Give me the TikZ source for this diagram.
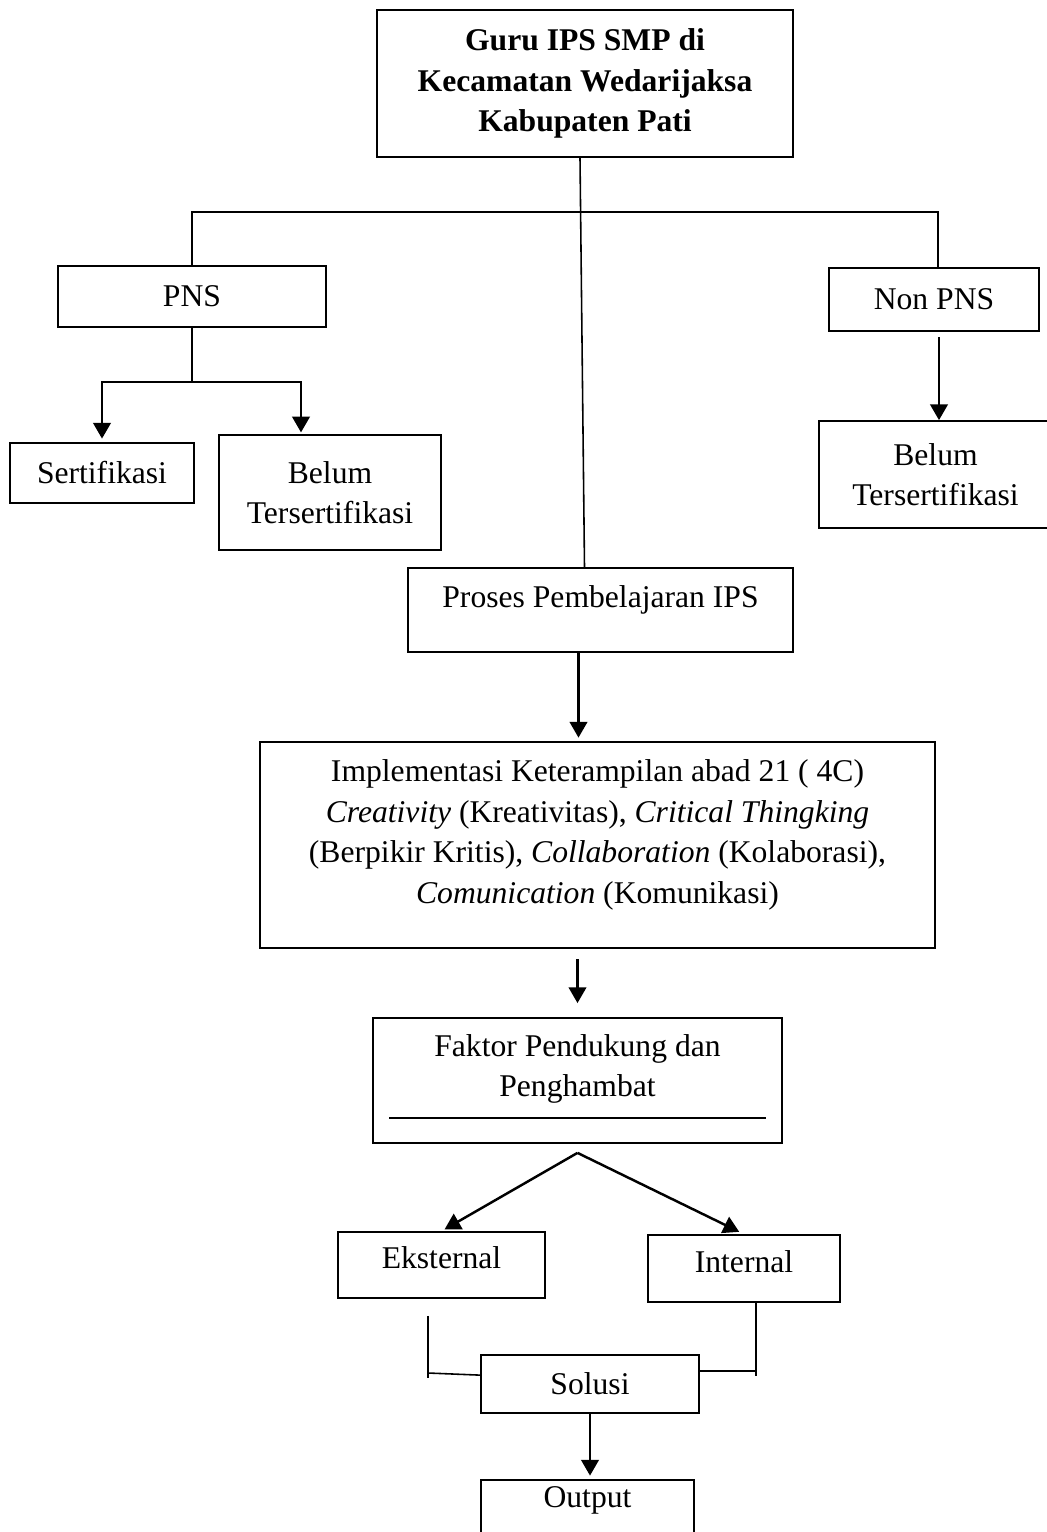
\documentclass[tikz,border=0pt]{standalone}
\usepackage{fontspec}
\setmainfont{Liberation Serif}
\usetikzlibrary{positioning,arrows.meta,calc}

\begin{document}
\begin{tikzpicture}[x=0.02cm, y=-0.02cm,
  blok/.style={draw, line width=1pt, inner sep=0pt, align=center,
    font=\fontsize{18}{23}\selectfont},
  garis/.style={line width=0.9pt},
  panah/.style={line width=1.4pt, -{Triangle[width=10pt,length=9pt]}}]
\useasboundingbox (0,0) rectangle (1047,1532);
% kotak utama
\node[blok, minimum width=8.32cm, minimum height=2.94cm,
  font=\fontsize{18}{23}\selectfont\bfseries] (guru) at (585,83.5)
  {Guru IPS SMP di\\Kecamatan Wedarijaksa\\Kabupaten Pati};
% status guru
\node[blok, minimum width=5.36cm, minimum height=1.22cm] (pns) at (192,296.5) {PNS};
\node[blok, minimum width=3.68cm, minimum height=1.2cm] (sert) at (102,473) {Sertifikasi};
\node[blok, minimum width=4.44cm, minimum height=2.3cm] (belumA) at (330,492.5) {Belum\\Tersertifikasi};
\node[blok, minimum width=4.2cm, minimum height=1.26cm] (nonpns) at (934,299.5) {Non PNS};
\node[blok, minimum width=4.66cm, minimum height=2.14cm] (belumB) at (935.5,474.5) {Belum\\Tersertifikasi};
% alur tengah
\node[blok, minimum width=7.7cm, minimum height=1.68cm] (proses) at (600.5,610)
  {Proses Pembelajaran IPS\\[-7.7pt]\mbox{}};
\node[blok, minimum width=13.5cm, minimum height=4.12cm] (impl) at (597.5,845)
  {Implementasi Keterampilan abad 21 ( 4C)\\\textit{Creativity} (Kreativitas), \textit{Critical Thingking}\\
   (Berpikir Kritis), \textit{Collaboration} (Kolaborasi),\\\textit{Comunication} (Komunikasi)\\[-7.6pt]\mbox{}};
\node[blok, minimum width=8.18cm, minimum height=2.5cm] (faktor) at (577.5,1080.5)
  {Faktor Pendukung dan\\Penghambat\\[-6.1pt]\mbox{}};
\draw[garis] ($(faktor.south west)+(17,-26)$) -- ($(faktor.south east)+(-17,-26)$);
\node[blok, minimum width=4.14cm, minimum height=1.32cm] (eks) at (441.5,1265) {Eksternal\\[-14pt]\mbox{}};
\node[blok, minimum width=3.84cm, minimum height=1.34cm] (int) at (744,1268.5) {Internal\\[-15.6pt]\mbox{}};
\node[blok, minimum width=4.36cm, minimum height=1.16cm] (sol) at (590,1384) {Solusi};
\node[blok, minimum width=4.26cm, minimum height=1.4cm] (out) at (587.5,1515) {Output\\[-2pt]\mbox{}};
% cabang atas
\coordinate (bar) at (0,212);
\coordinate (atasB) at ($(nonpns.north)+(4,0)$);
\draw[garis] (pns.north) -- (pns.north |- bar) -- (atasB |- bar) -- (atasB);
\draw[garis] ($(guru.south)+(-5,0)$) -- ($(proses.north)+(-16,0)$);
% PNS
\coordinate (cabang) at (190,382);
\draw[garis] (pns.south) -- (pns.south |- cabang);
\draw[panah, shorten >=2pt] (pns.south |- cabang) -| (sert.north);
\draw[panah, shorten >=1pt] (pns.south |- cabang) -| ($(belumA.north)+(-29,0)$);
% non PNS
\coordinate (bawahB) at ($(nonpns.south)+(5,0)$);
\draw[panah, shorten <=3pt] (bawahB) -- (bawahB |- belumB.north);
% ke bawah
\coordinate (turun) at ($(proses.south)+(-22,0)$);
\draw[panah, shorten >=2pt] (turun) -- (turun |- impl.north);
\draw[panah, shorten <=6pt, shorten >=8pt] (impl.south -| faktor.north) -- (faktor.north);
% faktor pendukung dan penghambat
\coordinate (puncak) at ($(faktor.south)+(0,9)$);
\draw[panah, shorten >=2pt] (puncak) -- (eks.north);
\draw[panah, shorten >=3pt] (puncak) -- (int.north);
% ke solusi
\coordinate (kakiA) at (428,1373);
\coordinate (kakiB) at (756,1371);
\draw[garis] ($(kakiA |- eks.south)+(0,17)$) -- ($(kakiA)+(0,5)$);
\draw[garis] (kakiA) -- ($(sol.north west)+(0,21)$);
\draw[garis] (kakiB |- int.south) -- ($(kakiB)+(0,5)$);
\draw[garis] (kakiB) -- (kakiB -| sol.east);
\draw[panah, shorten >=2pt] (sol.south) -- (sol.south |- out.north);
\end{tikzpicture}
\end{document}
